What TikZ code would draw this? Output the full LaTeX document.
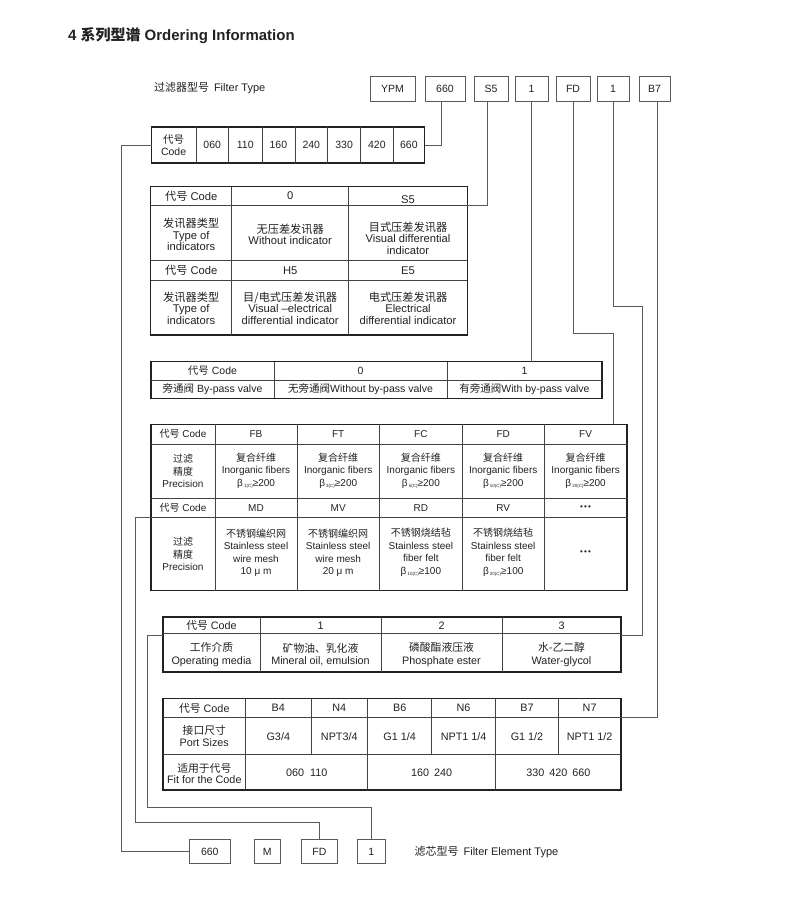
\documentclass[tikz,border=0pt]{standalone}
\usepackage{fontspec}
\setmainfont{Liberation Sans}
\newfontfamily\cjk{Noto Sans CJK SC}
\newcommand{\zh}[1]{{\cjk #1}}
\newcommand{\bsub}[2]{β\hspace{1.2pt}\raisebox{-1.3pt}{\fontsize{4.5}{5}\selectfont #1}≥#2}
\newcommand{\tdots}{{\fontsize{8}{8}\selectfont •\hspace{1.2pt}•\hspace{1.2pt}•}}
\usetikzlibrary{calc}
\definecolor{ink}{HTML}{222222}
\definecolor{wire}{HTML}{5A5A5A}
\tikzset{
  every node/.style={text=ink, inner sep=0pt, outer sep=0pt},
  txt/.style={align=center, font=\fontsize{10.5}{11.5}\selectfont},
  tind/.style={align=center, font=\fontsize{11.2}{11.5}\selectfont},
  tpre/.style={align=center, font=\fontsize{10}{12.5}\selectfont},
  tmed/.style={align=center, font=\fontsize{10.8}{12.3}\selectfont},
  tport/.style={align=center, font=\fontsize{10.8}{11.6}\selectfont},
  frame/.style={draw=ink, line width=1.2pt, rectangle, anchor=north west},
  inner/.style={draw=ink!85, line width=0.6pt},
  wirel/.style={draw=wire, line width=0.8pt},
  codebox/.style={draw=wire, line width=0.8pt, rectangle, minimum height=24.5pt, font=\fontsize{10.5}{12}\selectfont},
}
\begin{document}
\begin{tikzpicture}[x=1pt,y=-1pt]
\useasboundingbox (0,0) rectangle (800,916);
\fill[white] (0,0) rectangle (800,916);

% title
\node[anchor=west, font=\fontsize{15}{16}\selectfont\bfseries] (title) at (68,36) {4 \zh{系列型谱} Ordering Information};
\node[anchor=west, font=\fontsize{11}{12}\selectfont] (ftype) at (154,88.5) {\zh{过滤器型号}\hspace{5pt}Filter Type};

% top boxes
\node[codebox, minimum width=45pt] (tYPM) at (392.5,89) {YPM};
\node[codebox, minimum width=40pt] (t660) at (445,89) {660};
\node[codebox, minimum width=34pt] (tS5) at (491,89) {S5};
\node[codebox, minimum width=33pt] (tA) at (531.5,89) {1};
\node[codebox, minimum width=34pt] (tFD) at (573,89) {FD};
\node[codebox, minimum width=32pt] (tB) at (613,89) {1};
\node[codebox, minimum width=31pt] (tB7) at (654.5,89) {B7};

% ---------- code table
\node[frame, minimum width=273pt, minimum height=36pt] (codetab) at (151.5,127) {};
\foreach \x in {195.8,228.7,262,294.9,327.7,360.5,393.3}
  \draw[inner] (\x,127) -- (\x,163);
\node[txt] (ct0) at (173.6,145) {\zh{代号}\\Code};
\node[txt] (ct1) at (212.2,145) {060};
\node[txt] (ct2) at (245.3,145) {110};
\node[txt] (ct3) at (278.4,145) {160};
\node[txt] (ct4) at (311.3,145) {240};
\node[txt] (ct5) at (344.1,145) {330};
\node[txt] (ct6) at (376.9,145) {420};
\node[txt] (ct7) at (408.9,145) {660};

% ---------- indicator table
\node[frame, minimum width=316.6pt, minimum height=148.3pt] (indtab) at (150.7,186.7) {};
\draw[inner] (231.7,186.7) -- (231.7,335) (348.7,186.7) -- (348.7,335);
\draw[inner] (150.7,205.7) -- (467.3,205.7) (150.7,260.7) -- (467.3,260.7) (150.7,280) -- (467.3,280);
\node[tind] (in1) at (191.2,196) {\zh{代号} Code};
\node[tind] (in2) at (290.2,196) {0};
\node[tind] (in3) at (408,199.5) {S5};
\node[tind] (in4) at (191.2,234.5) {\zh{发讯器类型}\\Type of\\indicators};
\node[tind] (in5) at (290.2,234.5) {\zh{无压差发讯器}\\Without indicator};
\node[tind] (in6) at (408,238) {\zh{目式压差发讯器}\\Visual differential\\indicator};
\node[tind] (in7) at (191.2,270.5) {\zh{代号} Code};
\node[tind] (in8) at (290.2,270.5) {H5};
\node[tind] (in9) at (408,270.5) {E5};
\node[tind] (in10) at (191.2,308.3) {\zh{发讯器类型}\\Type of\\indicators};
\node[tind] (in11) at (290.2,308.3) {\zh{目/电式压差发讯器}\\Visual –electrical\\differential indicator};
\node[tind] (in12) at (408,308.3) {\zh{电式压差发讯器}\\Electrical\\differential indicator};

% ---------- bypass table
\node[frame, minimum width=451pt, minimum height=36.6pt] (bptab) at (151,361.7) {};
\draw[inner] (274,361.7) -- (274,398.3) (447,361.7) -- (447,398.3) (151,380.7) -- (602,380.7);
\node[txt] (bp1) at (212.5,371) {\zh{代号} Code};
\node[txt] (bp2) at (360.5,371) {0};
\node[txt] (bp3) at (524.5,371) {1};
\node[txt] (bp4) at (212.5,389.5) {\zh{旁通阀} By-pass valve};
\node[txt] (bp5) at (360.5,389.5) {\zh{无旁通阀}Without by-pass valve};
\node[txt] (bp6) at (524.5,389.5) {\zh{有旁通阀}With by-pass valve};

% ---------- precision table
\node[frame, minimum width=476pt, minimum height=166.2pt] (prtab) at (151,424.3) {};
\foreach \x in {215,297,379.5,462.3,544.2}
  \draw[inner] (\x,424.3) -- (\x,590.5);
\draw[inner] (151,444) -- (627,444) (151,498.3) -- (627,498.3) (151,517.3) -- (627,517.3);
\node[tpre] (pr1) at (183,434) {\zh{代号} Code};
\node[tpre] (pr2) at (256,434) {FB};
\node[tpre] (pr3) at (338.2,434) {FT};
\node[tpre] (pr4) at (420.9,434) {FC};
\node[tpre] (pr5) at (503.2,434) {FD};
\node[tpre] (pr6) at (585.6,434) {FV};
\node[tpre] (pr7) at (183,471) {\zh{过滤}\\\zh{精度}\\Precision};
\node[tpre] (pr8) at (256,470.5) {\zh{复合纤维}\\Inorganic fibers\\\bsub{1(C)}{200}};
\node[tpre] (pr9) at (338.2,470.5) {\zh{复合纤维}\\Inorganic fibers\\\bsub{3(C)}{200}};
\node[tpre] (pr10) at (420.9,470.5) {\zh{复合纤维}\\Inorganic fibers\\\bsub{5(C)}{200}};
\node[tpre] (pr11) at (503.2,470.5) {\zh{复合纤维}\\Inorganic fibers\\\bsub{10(C)}{200}};
\node[tpre] (pr12) at (585.6,470.5) {\zh{复合纤维}\\Inorganic fibers\\\bsub{20(C)}{200}};
\node[tpre] (pr13) at (183,508) {\zh{代号} Code};
\node[tpre] (pr14) at (256,508) {MD};
\node[tpre] (pr15) at (338.2,508) {MV};
\node[tpre] (pr16) at (420.9,508) {RD};
\node[tpre] (pr17) at (503.2,508) {RV};
\node[tpre] (pr18) at (585.6,508) {\tdots};
\node[tpre] (pr19) at (183,554) {\zh{过滤}\\\zh{精度}\\Precision};
\node[tpre] (pr20) at (256,552.5) {\zh{不锈钢编织网}\\Stainless steel\\wire mesh\\10 μ m};
\node[tpre] (pr21) at (338.2,552.5) {\zh{不锈钢编织网}\\Stainless steel\\wire mesh\\20 μ m};
\node[tpre] (pr22) at (420.9,552.5) {\zh{不锈钢烧结毡}\\Stainless steel\\fiber felt\\\bsub{10(C)}{100}};
\node[tpre] (pr23) at (503.2,552.5) {\zh{不锈钢烧结毡}\\Stainless steel\\fiber felt\\\bsub{20(C)}{100}};
\node[tpre] (pr24) at (585.6,552.5) {\tdots};

% ---------- media table
\node[frame, minimum width=458pt, minimum height=55pt] (medtab) at (163,617) {};
\draw[inner] (260,617) -- (260,672) (381,617) -- (381,672) (502,617) -- (502,672) (163,633) -- (621,633);
\node[tmed] (md1) at (211.5,625.5) {\zh{代号} Code};
\node[tmed] (md2) at (320.5,625.5) {1};
\node[tmed] (md3) at (441.5,625.5) {2};
\node[tmed] (md4) at (561.5,625.5) {3};
\node[tmed] (md5) at (211.5,654.5) {\zh{工作介质}\\Operating media};
\node[tmed] (md6) at (320.5,654.5) {\zh{矿物油、乳化液}\\Mineral oil, emulsion};
\node[tmed] (md7) at (441.5,654.5) {\zh{磷酸酯液压液}\\Phosphate ester};
\node[tmed] (md8) at (561.5,654.5) {\zh{水-乙二醇}\\Water-glycol};

% ---------- port table
\node[frame, minimum width=458pt, minimum height=91.7pt] (pttab) at (163,698.3) {};
\foreach \x in {311,431.7,558.3}
  \draw[inner] (\x,698.3) -- (\x,754);
\foreach \x in {245.7,367.7,495.6}
  \draw[inner] (\x,698.3) -- (\x,790);
\draw[inner] (163,717.7) -- (621,717.7) (163,754) -- (621,754);
\node[tport] (pt1) at (204.3,708) {\zh{代号} Code};
\node[tport] (pt2) at (278.3,708) {B4};
\node[tport] (pt3) at (339.3,708) {N4};
\node[tport] (pt4) at (399.7,708) {B6};
\node[tport] (pt5) at (463.6,708) {N6};
\node[tport] (pt6) at (527,708) {B7};
\node[tport] (pt7) at (589.6,708) {N7};
\node[tport] (pt8) at (204.3,736.3) {\zh{接口尺寸}\\Port Sizes};
\node[tport] (pt9) at (278.3,736.3) {G3/4};
\node[tport] (pt10) at (339.3,736.3) {NPT3/4};
\node[tport] (pt11) at (399.7,736.3) {G1 1/4};
\node[tport] (pt12) at (463.6,736.3) {NPT1 1/4};
\node[tport] (pt13) at (527,736.3) {G1 1/2};
\node[tport] (pt14) at (589.6,736.3) {NPT1 1/2};
\node[tport] (pt15) at (204.3,773.5) {\zh{适用于代号}\\Fit for the Code};
\node[tport] (pt16) at (306.7,772.5) {060\hspace{6pt}110};
\node[tport] (pt17) at (431.7,772.5) {160\hspace{5pt}240};
\node[tport] (pt18) at (558.3,772.5) {330\hspace{5pt}420\hspace{5pt}660};

% bottom boxes
\node[codebox, minimum width=40.4pt] (b660) at (209.8,851.5) {660};
\node[codebox, minimum width=26.4pt] (bM) at (267.2,851.5) {M};
\node[codebox, minimum width=35.8pt] (bFD) at (319.4,851.5) {FD};
\node[codebox, minimum width=27.3pt] (bA) at (371.4,851.5) {1};
\node[anchor=west, font=\fontsize{11}{12}\selectfont] (fetype) at (414.6,852) {\zh{滤芯型号}\hspace{5pt}Filter Element Type};

% ---------- connectors
\draw[wirel] ({441.5,0} |- t660.south) -- (441.5,145) -- (codetab.east);
\draw[wirel] (codetab.west) -- (121,145) -- (121,851.5) -- (b660.west);
\draw[wirel] ({487,0} |- tS5.south) -- (487,205.7) -- ([yshift=-19pt]indtab.north east);
\draw[wirel] (tA.south) -- (tA.south |- bptab.north);
\draw[wirel] (tFD.south) -- (573,333.3) -- (613.3,333.3) -- (613.3,424.3);
\draw[wirel] ([yshift=-93pt]prtab.north west) -- (135,517.3) -- (135,822) -- (319.4,822) -- (bFD.north);
\draw[wirel] (tB.south) -- (613,306) -- (642,306) -- (642,635) -- (621,635);
\draw[wirel] (163,635) -- (147,635) -- (147,807) -- (371.4,807) -- (bA.north);
\draw[wirel] ({657.5,0} |- tB7.south) -- (657.5,717.7) -- ([yshift=-19.4pt]pttab.north east);
\end{tikzpicture}
\end{document}
